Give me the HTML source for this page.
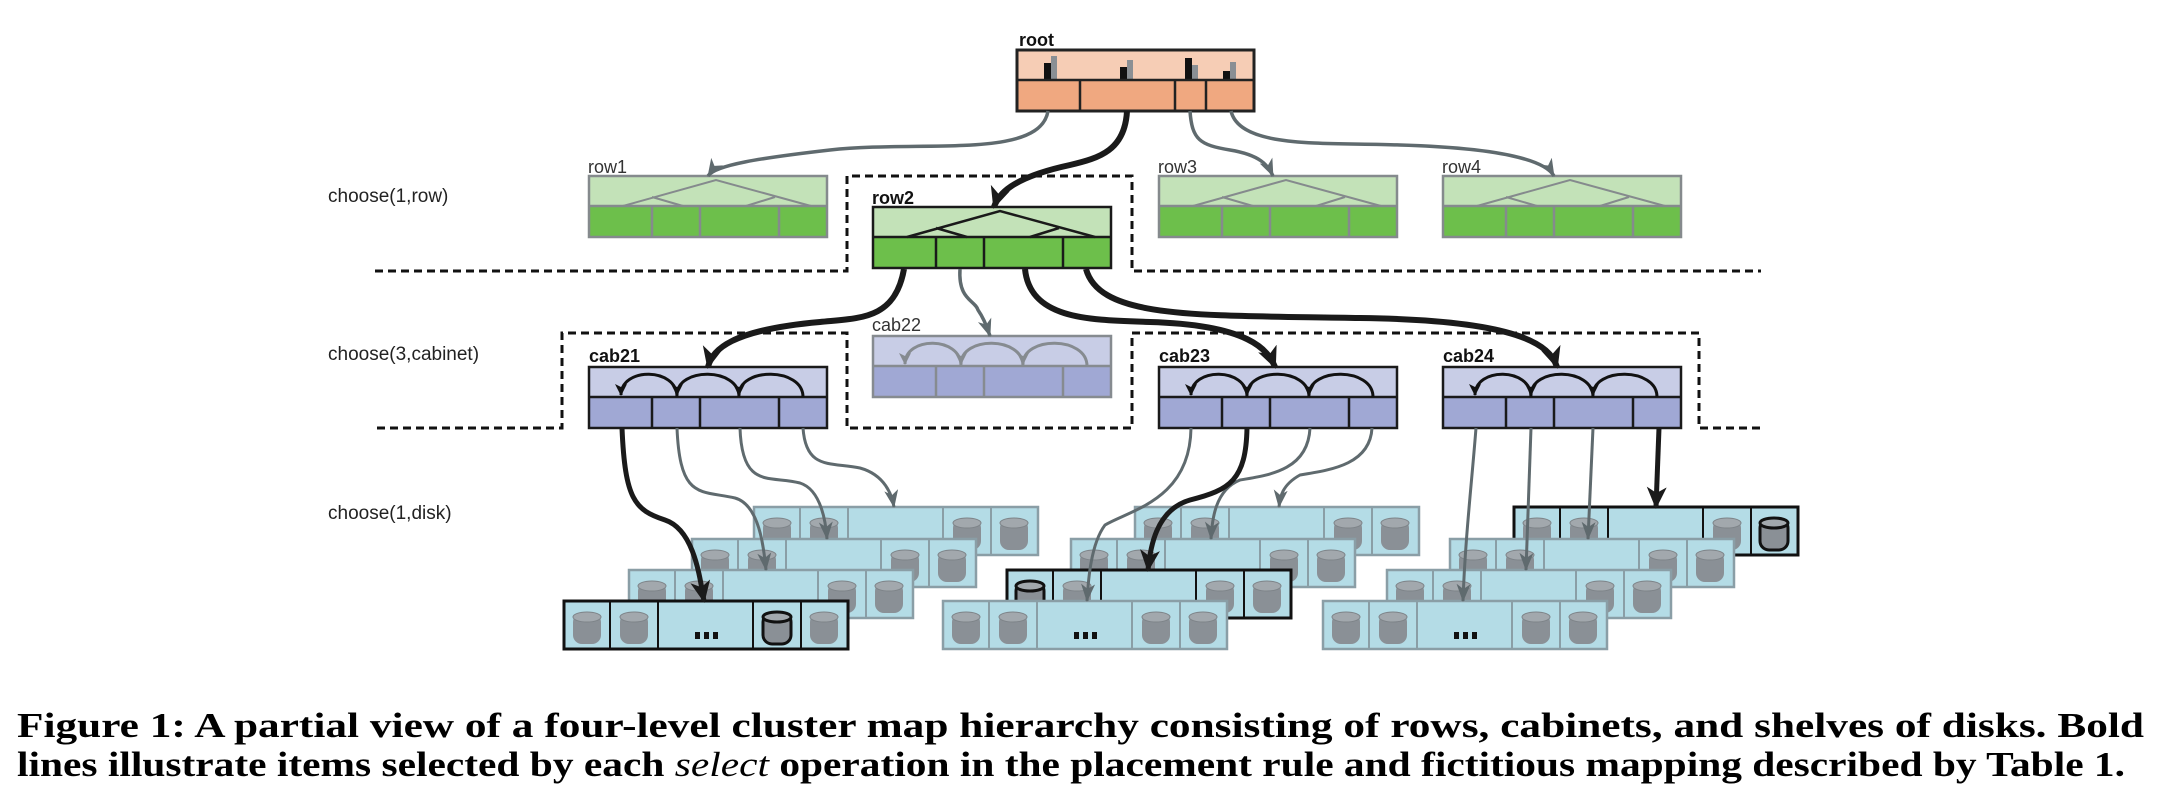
<!DOCTYPE html>
<html><head><meta charset="utf-8"><style>
html,body{margin:0;padding:0;background:#fff;}
svg{display:block;}
</style></head><body>
<svg width="2162" height="806" viewBox="0 0 2162 806" xmlns="http://www.w3.org/2000/svg" xmlns:xlink="http://www.w3.org/1999/xlink">
<defs>
<marker id="ab" markerUnits="userSpaceOnUse" markerWidth="24" markerHeight="22" refX="20" refY="10" orient="auto"><path d="M0,0 L22,10 L0,20 L6,10 z" fill="#1a1a1a"/></marker>
<marker id="ag" markerUnits="userSpaceOnUse" markerWidth="20" markerHeight="16" refX="17" refY="7" orient="auto"><path d="M0,0 L18,7 L0,14 L5,7 z" fill="#5f6a6e"/></marker>
<marker id="as" markerUnits="userSpaceOnUse" markerWidth="14" markerHeight="14" refX="11" refY="6" orient="auto"><path d="M0,0 L12,6 L0,12 L3,6 z" fill="#111"/></marker>
<marker id="asg" markerUnits="userSpaceOnUse" markerWidth="14" markerHeight="14" refX="11" refY="6" orient="auto"><path d="M0,0 L12,6 L0,12 L3,6 z" fill="#868b90"/></marker>
<g id="disk"><rect x="-14" y="12" width="28" height="31" rx="9" fill="#8a9096"/><ellipse cx="0" cy="16" rx="14" ry="5" fill="#a2a8ad" stroke="#7d8388" stroke-width="1"/></g>
<g id="shelf">
<rect x="0" y="0" width="284" height="48" fill="#b4dce6" stroke="#8a9ea6" stroke-width="2.5"/>
<path d="M46,0V48M94,0V48M189,0V48M237,0V48" stroke="#8a9ea6" stroke-width="2"/>
<use xlink:href="#disk" x="23" y="0"/><use xlink:href="#disk" x="70" y="0"/><use xlink:href="#disk" x="213" y="0"/><use xlink:href="#disk" x="260" y="0"/>
<rect x="131" y="31" width="5" height="7" fill="#111"/><rect x="140" y="31" width="5" height="7" fill="#111"/><rect x="149" y="31" width="5" height="7" fill="#111"/>
</g>
<g id="seldisk"><rect x="-14" y="12" width="28" height="31" rx="9" fill="#8a9096" stroke="#111" stroke-width="3"/><ellipse cx="0" cy="16" rx="14" ry="5" fill="#a2a8ad" stroke="#111" stroke-width="3"/></g>
<g id="rowg">
<rect x="0" y="0" width="238" height="30" fill="#c3e2b8"/><rect x="0" y="30" width="238" height="31" fill="#6dbf4b"/>
<rect x="0" y="0" width="238" height="61" fill="none" stroke="#858a8d" stroke-width="2.5"/>
<path d="M0,30H238M63,30V61M111,30V61M190,30V61" stroke="#858a8d" stroke-width="2.5"/>
<path d="M34,30 L127,4 L222,30 M63,21 L94,30 M186,21 L157,30" stroke="#858a8d" stroke-width="2" fill="none"/>
</g>
<g id="cabg">
<rect x="0" y="0" width="238" height="30" fill="#c8cde6"/><rect x="0" y="30" width="238" height="31" fill="#a0a8d4"/>
<rect x="0" y="0" width="238" height="61" fill="none" stroke="#1a1a1a" stroke-width="2.5"/>
<path d="M0,30H238M63,30V61M111,30V61M190,30V61" stroke="#1a1a1a" stroke-width="2.5"/>
<path d="M214,30 C214,0 150,0 150,28" stroke="#111" stroke-width="3" fill="none" marker-end="url(#as)"/>
<path d="M150,30 C150,0 88,0 88,28" stroke="#111" stroke-width="3" fill="none" marker-end="url(#as)"/>
<path d="M88,30 C88,0 32,0 32,28" stroke="#111" stroke-width="3" fill="none" marker-end="url(#as)"/>
</g>
</defs>

<g font-family="Liberation Sans, sans-serif" font-size="19" fill="#222">
<text x="328" y="202">choose(1,row)</text>
<text x="328" y="360">choose(3,cabinet)</text>
<text x="328" y="519">choose(1,disk)</text>
</g>

<path d="M375,271 H847 V176 H1132 V271 H1761" fill="none" stroke="#111" stroke-width="3" stroke-dasharray="8,5"/>
<path d="M377,428 H562 V333 H847 V428 H1132 V333 H1699 V428 H1765" fill="none" stroke="#111" stroke-width="3" stroke-dasharray="8,5"/>

<rect x="1017" y="50" width="237" height="30" fill="#f6cdb5"/>
<rect x="1017" y="80" width="237" height="31" fill="#f0a880"/>
<rect x="1044" y="63" width="7" height="17" fill="#111"/><rect x="1051" y="56" width="6" height="24" fill="#8a8f94"/>
<rect x="1120" y="67" width="7" height="13" fill="#111"/><rect x="1127" y="60" width="6" height="20" fill="#8a8f94"/>
<rect x="1185" y="58" width="7" height="22" fill="#111"/><rect x="1192" y="65" width="6" height="15" fill="#8a8f94"/>
<rect x="1223" y="71" width="7" height="9" fill="#111"/><rect x="1230" y="62" width="6" height="18" fill="#8a8f94"/>
<rect x="1017" y="50" width="237" height="61" fill="none" stroke="#222" stroke-width="3"/>
<path d="M1017,80H1254M1080,80V111M1175,80V111M1206,80V111" stroke="#222" stroke-width="2.5"/>
<text x="1019" y="46" font-family="Liberation Sans, sans-serif" font-size="18" font-weight="bold" fill="#111">root</text>

<use xlink:href="#rowg" x="589" y="176"/>
<use xlink:href="#rowg" x="1159" y="176"/>
<use xlink:href="#rowg" x="1443" y="176"/>
<g transform="translate(873,207)">
<rect x="0" y="0" width="238" height="30" fill="#c3e2b8"/><rect x="0" y="30" width="238" height="31" fill="#6dbf4b"/>
<rect x="0" y="0" width="238" height="61" fill="none" stroke="#1a1a1a" stroke-width="2.5"/>
<path d="M0,30H238M63,30V61M111,30V61M190,30V61" stroke="#1a1a1a" stroke-width="2.5"/>
<path d="M34,30 L127,4 L222,30 M63,21 L94,30 M186,21 L157,30" stroke="#1a1a1a" stroke-width="2.5" fill="none"/>
</g>
<g font-family="Liberation Sans, sans-serif" font-size="18" fill="#333">
<text x="588" y="173">row1</text><text x="1158" y="173">row3</text><text x="1442" y="173">row4</text>
<text x="872" y="204" font-weight="bold" fill="#111">row2</text>
</g>

<use xlink:href="#cabg" x="589" y="367"/>
<use xlink:href="#cabg" x="1159" y="367"/>
<use xlink:href="#cabg" x="1443" y="367"/>
<g transform="translate(873,336)">
<rect x="0" y="0" width="238" height="30" fill="#c8cde6"/><rect x="0" y="30" width="238" height="31" fill="#a0a8d4"/>
<rect x="0" y="0" width="238" height="61" fill="none" stroke="#868b90" stroke-width="2.5"/>
<path d="M0,30H238M63,30V61M111,30V61M190,30V61" stroke="#868b90" stroke-width="2.5"/>
<path d="M214,30 C214,0 150,0 150,28" stroke="#868b90" stroke-width="3" fill="none" marker-end="url(#asg)"/>
<path d="M150,30 C150,0 88,0 88,28" stroke="#868b90" stroke-width="3" fill="none" marker-end="url(#asg)"/>
<path d="M88,30 C88,0 32,0 32,28" stroke="#868b90" stroke-width="3" fill="none" marker-end="url(#asg)"/>
</g>
<g font-family="Liberation Sans, sans-serif" font-size="18" fill="#111">
<text x="589" y="362" font-weight="bold">cab21</text>
<text x="872" y="331" fill="#333">cab22</text>
<text x="1159" y="362" font-weight="bold">cab23</text>
<text x="1443" y="362" font-weight="bold">cab24</text>
</g>

<use xlink:href="#shelf" x="754" y="507"/>
<use xlink:href="#shelf" x="692" y="539"/>
<use xlink:href="#shelf" x="629" y="570"/>
<use xlink:href="#shelf" x="564" y="601"/>
<rect x="564" y="601" width="284" height="48" fill="none" stroke="#111" stroke-width="3"/>
<path d="M610,601V649M658,601V649M753,601V649M801,601V649" stroke="#111" stroke-width="2"/>
<rect x="763" y="603" width="36" height="44" fill="#b4dce6"/>
<use xlink:href="#seldisk" x="777" y="601"/>

<use xlink:href="#shelf" x="1135" y="507"/>
<use xlink:href="#shelf" x="1071" y="539"/>
<use xlink:href="#shelf" x="1007" y="570"/>
<rect x="1007" y="570" width="284" height="48" fill="none" stroke="#111" stroke-width="3"/>
<path d="M1053,570V618M1101,570V618M1196,570V618M1244,570V618" stroke="#111" stroke-width="2"/>
<rect x="1010" y="572" width="40" height="44" fill="#b4dce6"/>
<use xlink:href="#seldisk" x="1030" y="570"/>
<use xlink:href="#shelf" x="943" y="601"/>

<use xlink:href="#shelf" x="1514" y="507"/>
<rect x="1514" y="507" width="284" height="48" fill="none" stroke="#111" stroke-width="3"/>
<path d="M1560,507V555M1608,507V555M1703,507V555M1751,507V555" stroke="#111" stroke-width="2"/>
<rect x="1754" y="509" width="42" height="44" fill="#b4dce6"/>
<use xlink:href="#seldisk" x="1774" y="507"/>
<use xlink:href="#shelf" x="1450" y="539"/>
<use xlink:href="#shelf" x="1387" y="570"/>
<use xlink:href="#shelf" x="1323" y="601"/>

<g fill="none">
<path d="M1048,111 C1040,160 920,140 830,150 C760,158 715,165 708,176" stroke="#5f6a6e" stroke-width="3.5" marker-end="url(#ag)"/>
<path d="M1190,111 C1192,140 1200,145 1230,150 C1260,155 1268,165 1273,176" stroke="#5f6a6e" stroke-width="3.5" marker-end="url(#ag)"/>
<path d="M1231,111 C1240,150 1330,142 1400,145 C1500,148 1545,160 1554,176" stroke="#5f6a6e" stroke-width="3.5" marker-end="url(#ag)"/>
<path d="M1127,111 C1125,150 1100,158 1070,165 C1010,178 998,195 994,207" stroke="#1a1a1a" stroke-width="6" marker-end="url(#ab)"/>

<path d="M960,269 C958,300 975,300 978,310 C985,320 988,330 990,336" stroke="#5f6a6e" stroke-width="3.5" marker-end="url(#ag)"/>
<path d="M904,269 C895,320 860,318 820,322 C730,330 712,350 708,367" stroke="#1a1a1a" stroke-width="6" marker-end="url(#ab)"/>
<path d="M1025,269 C1030,320 1090,320 1150,322 C1250,325 1268,350 1275,367" stroke="#1a1a1a" stroke-width="6" marker-end="url(#ab)"/>
<path d="M1086,269 C1100,320 1200,315 1360,318 C1520,320 1550,345 1557,367" stroke="#1a1a1a" stroke-width="6" marker-end="url(#ab)"/>

<path d="M677,428 C680,500 700,490 735,498 C760,505 764,550 766,570" stroke="#5f6a6e" stroke-width="3" marker-end="url(#ag)"/>
<path d="M740,428 C742,490 770,475 800,483 C822,490 826,525 827,539" stroke="#5f6a6e" stroke-width="3" marker-end="url(#ag)"/>
<path d="M803,428 C806,470 830,462 860,468 C885,475 892,495 894,507" stroke="#5f6a6e" stroke-width="3" marker-end="url(#ag)"/>
<path d="M622,428 C625,500 635,510 665,520 C695,530 700,580 704,601" stroke="#1a1a1a" stroke-width="5" marker-end="url(#ab)"/>

<path d="M1191,428 C1190,500 1130,510 1105,525 C1090,545 1088,585 1087,601" stroke="#5f6a6e" stroke-width="3" marker-end="url(#ag)"/>
<path d="M1310,428 C1308,470 1270,475 1240,480 C1215,490 1212,520 1211,539" stroke="#5f6a6e" stroke-width="3" marker-end="url(#ag)"/>
<path d="M1372,428 C1370,465 1330,470 1300,475 C1282,485 1280,497 1279,507" stroke="#5f6a6e" stroke-width="3" marker-end="url(#ag)"/>
<path d="M1247,428 C1246,480 1230,490 1190,500 C1155,510 1150,550 1148,570" stroke="#1a1a1a" stroke-width="5" marker-end="url(#ab)"/>

<path d="M1476,428 C1472,480 1465,540 1463,601" stroke="#5f6a6e" stroke-width="3" marker-end="url(#ag)"/>
<path d="M1531,428 C1529,480 1527,530 1526,570" stroke="#5f6a6e" stroke-width="3" marker-end="url(#ag)"/>
<path d="M1593,428 C1591,470 1589,510 1588,539" stroke="#5f6a6e" stroke-width="3" marker-end="url(#ag)"/>
<path d="M1659,428 L1656,507" stroke="#1a1a1a" stroke-width="5" marker-end="url(#ab)"/>
</g>

<g font-family="'Liberation Serif', serif" font-weight="bold" font-size="35" fill="#000">
<text x="17" y="737" textLength="2127" lengthAdjust="spacingAndGlyphs">Figure 1:  A partial view of a four-level cluster map hierarchy consisting of rows, cabinets, and shelves of disks.  Bold</text>
<text x="17" y="776" textLength="2108" lengthAdjust="spacingAndGlyphs">lines illustrate items selected by each <tspan font-style="italic" font-weight="normal">select</tspan> operation in the placement rule and fictitious mapping described by Table 1.</text>
</g>
</svg>
</body></html>
